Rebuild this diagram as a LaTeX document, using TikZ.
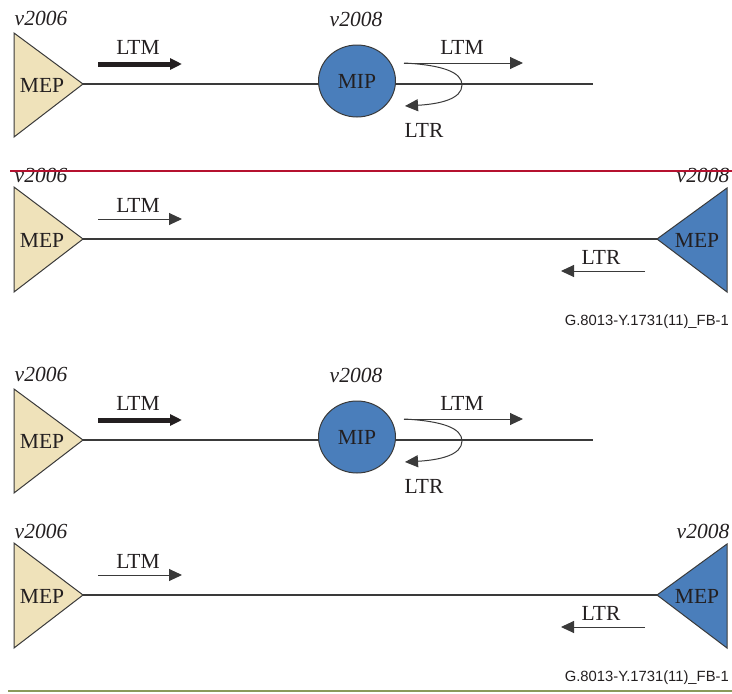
\documentclass[tikz,border=0pt]{standalone}
\usepackage{fontspec}
\setmainfont{Liberation Serif}
\setsansfont{Liberation Sans}
\usetikzlibrary{arrows.meta,shapes.geometric}
\definecolor{beige}{HTML}{EFE2BA}
\definecolor{mepblue}{HTML}{4A7EBB}
\definecolor{ink}{HTML}{231F20}
\definecolor{edge}{HTML}{3A3A3A}
\definecolor{redline}{HTML}{B5112F}
\definecolor{greenline}{HTML}{8A9A5B}
\tikzset{
  lab/.style={font=\fontsize{21.5}{25}\selectfont, text=ink, inner sep=0pt},
  ver/.style={font=\fontsize{21.5}{25}\selectfont\itshape, text=ink, inner sep=0pt},
  captext/.style={font=\sffamily\fontsize{14.8}{17}\selectfont, text=ink, inner sep=0pt},
  mepbeige/.style={fill=beige, draw=edge, line width=1pt, line join=miter},
  mepbluestyle/.style={fill=mepblue, draw=edge, line width=1pt, line join=miter},
  mip/.style={ellipse, fill=mepblue, draw=edge, line width=1pt, minimum width=77pt, minimum height=72pt, inner sep=0pt, font=\fontsize{21.5}{25}\selectfont, text=ink},
  wire/.style={draw=edge, line width=1.3pt},
  thinarrow/.style={draw=edge, line width=1pt, -{Triangle[length=13pt,width=12pt]}},
  boldarrow/.style={draw=ink, line width=5pt, -{Triangle[length=12pt,width=11pt]}},
}
\newcommand{\oneset}{%
  % ---- panel 1 ----
  \node[ver] (v1) at (41,18) {v2006};
  \draw[mepbeige] (14,33) -- (83,84) -- (14,137) -- cycle;
  \coordinate (t1) at (83,84);
  \node[lab] (mep1) at (42,85) {MEP};
  \coordinate (a1s) at (98,64);
  \coordinate (a1e) at (182,64);
  \draw[boldarrow] (a1s) -- (a1e);
  \node[lab] (ltm1) at (138,47) {LTM};
  \node[mip] (mip) at (357,81) {MIP};
  \node[ver] (v2) at (356,19) {v2008};
  \coordinate (lend) at (593,84);
  \draw[wire] (t1) -- (mip.west |- t1);
  \draw[wire] (mip.east |- lend) -- (lend);
  \coordinate (a2s) at (404,63);
  \coordinate (a2e) at (523,63);
  \draw[thinarrow] (a2s) -- (a2e);
  \node[lab] (ltm2) at (462,47) {LTM};
  \coordinate (cr) at (462,85);
  \coordinate (ce) at (405,106);
  \draw[thinarrow] (a2s) .. controls (442,65) and (462,72) .. (cr)
                         .. controls (462,99) and (440,104) .. (ce);
  \node[lab] (ltr1) at (424,130) {LTR};
  % ---- panel 2 ----
  \node[ver] (v3) at (41,175) {v2006};
  \node[ver] (v4) at (703,175) {v2008};
  \draw[mepbeige] (14,187) -- (83,239) -- (14,292) -- cycle;
  \coordinate (t2) at (83,239);
  \node[lab] (mep2) at (42,240) {MEP};
  \draw[mepbluestyle] (727,188) -- (657,239) -- (727,292) -- cycle;
  \coordinate (t3) at (657,239);
  \node[lab] (mep3) at (697,240) {MEP};
  \draw[wire] (t2) -- (t3);
  \coordinate (a3s) at (98,219);
  \coordinate (a3e) at (182,219);
  \draw[thinarrow] (a3s) -- (a3e);
  \node[lab] (ltm3) at (138,205) {LTM};
  \coordinate (a4s) at (645,271);
  \coordinate (a4e) at (561,271);
  \draw[thinarrow] (a4s) -- (a4e);
  \node[lab] (ltr2) at (601,257) {LTR};
  \node[captext, anchor=east] (capt) at (729,322) {G.8013-Y.1731(11)\_FB-1};
}
\begin{document}
\begin{tikzpicture}[x=1pt,y=-1pt]
  \useasboundingbox (0,0) rectangle (732,694);
  \begin{scope}[name prefix=top-]
    \oneset
    \coordinate (rl1) at (10,171);
    \coordinate (rl2) at (732,171);
    \draw[redline, line width=1.6pt] (rl1) -- (rl2);
  \end{scope}
  \begin{scope}[shift={(0,356)}, name prefix=bot-]
    \oneset
  \end{scope}
  \coordinate (gl1) at (8,691);
  \coordinate (gl2) at (732,691);
  \draw[greenline, line width=1.3pt] (gl1) -- (gl2);
\end{tikzpicture}
\end{document}
